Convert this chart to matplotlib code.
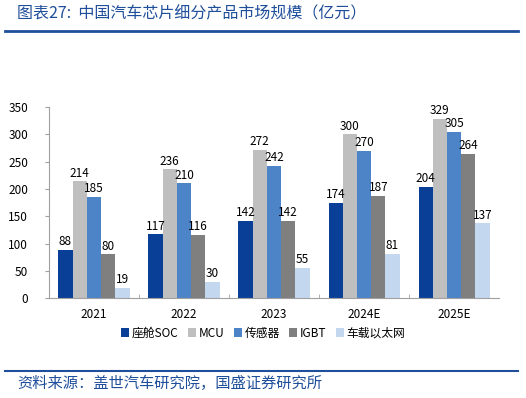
import numpy as np
import matplotlib.pyplot as plt

plt.rcParams['font.family'] = ['Noto Sans CJK SC', 'DejaVu Sans']

years = ['2021', '2022', '2023', '2024E', '2025E']
series = ['座舱SOC', 'MCU', '传感器', 'IGBT', '车载以太网']
soc = [88, 117, 142, 174, 204]
mcu = [214, 236, 272, 300, 329]
sensor = [185, 210, 242, 270, 305]
igbt = [80, 116, 142, 187, 264]
ether = [19, 30, 55, 81, 137]
colors = ['#0a3f97', '#bfbfbf', '#4d84c8', '#7f7f7f', '#c3d7ef']

fig = plt.figure(figsize=(5.26, 3.98), dpi=100)
ax = fig.add_axes([0.093, 0.251, 0.856, 0.48])

x = np.arange(len(years))
w = 0.158
data = [soc, mcu, sensor, igbt, ether]
for i, (name, vals) in enumerate(zip(series, data)):
    pos = x + (i - 2) * w
    ax.bar(pos, vals, w, color=colors[i], label=name)
    for p, v in zip(pos, vals):
        ax.text(p, v + 3, str(v), ha='center', va='bottom', fontsize=8.5, color='black')

ax.set_xlim(-0.5, len(years) - 0.5)
ax.set_ylim(0, 350)
ax.set_yticks(np.arange(0, 351, 50))
ax.set_xticks(x)
ax.set_xticklabels(years)
ax.set_xticks(np.arange(0.5, len(years) - 0.5, 1), minor=True)
ax.tick_params(axis='x', which='major', length=0, labelsize=8.5, pad=7)
ax.tick_params(axis='x', which='minor', length=3, direction='in', color='#a0a0a0')
ax.tick_params(axis='y', length=3, labelsize=8.5, color='#a0a0a0', pad=12)
for s in ['top', 'right']:
    ax.spines[s].set_visible(False)
ax.spines['left'].set_color('#a0a0a0')
ax.spines['bottom'].set_color('#a0a0a0')

fig.legend(loc='center', bbox_to_anchor=(0.5, 0.163), ncol=5, fontsize=8.5,
           frameon=False, handlelength=0.7, handleheight=0.7, handletextpad=0.2,
           columnspacing=0.8)

fig.text(0.033, 0.965, '图表27:  中国汽车芯片细分产品市场规模（亿元）', fontsize=11.5,
         color='#1f4e9a', ha='left', va='center', style='italic')
fig.add_artist(plt.Line2D([0.01, 0.984], [0.922, 0.922], color='#1f4e9a', lw=2))
fig.add_artist(plt.Line2D([0.01, 0.984], [0.068, 0.068], color='#1f4e9a', lw=1.5))
fig.text(0.033, 0.037, '资料来源：盖世汽车研究院，国盛证券研究所', fontsize=11,
         color='#1f4e9a', ha='left', va='center', style='italic')

fig.savefig('out.png', dpi=100)
